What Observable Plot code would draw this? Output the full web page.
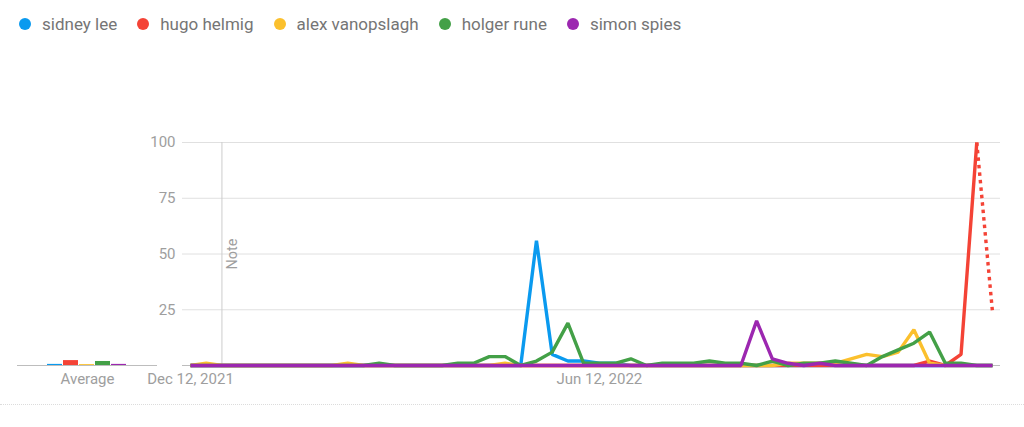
<!DOCTYPE html>
<html>
<head>
<meta charset="utf-8">
<script src="https://cdn.jsdelivr.net/npm/d3@7"></script>
<script src="https://cdn.jsdelivr.net/npm/@observablehq/plot@0.6"></script>
<style>
  html, body { margin: 0; padding: 0; background: #fff; }
  #wrap { position: relative; width: 1024px; height: 427px; overflow: hidden; font-family: Roboto, sans-serif; }
  #legend { position: absolute; left: 0; top: 0; height: 48px; display: flex; align-items: center; padding-left: 19px; }
  .item { display: flex; align-items: center; margin-right: 20px; font-size: 17px; color: #757575; }
  .dot { width: 12px; height: 12px; border-radius: 50%; margin-right: 11px; }
  #avg { position: absolute; left: 0; top: 48px; }
  #main { position: absolute; left: 140px; top: 48px; }
  #sep { position: absolute; left: 0; top: 404px; width: 1024px; border-top: 1px dotted #dcdcdc; }
</style>
</head>
<body>
<div id="wrap">
  <div id="legend"></div>
  <div id="avg"></div>
  <div id="main"></div>
  <div id="sep"></div>
</div>
<script>
// ---- data ----
const names = ["sidney lee", "hugo helmig", "alex vanopslagh", "holger rune", "simon spies"];
const colors = ["#0a9aef", "#f44336", "#fbc02d", "#43a047", "#9c27b0"];
const startWeek = "2021-12-12"; // weekly points, one per week
const sidneyLee = [0,0,0,0,0,0,0,0,0,0, 0,0,0,0,0,0,0,0,0,0, 0,0,56,5,2,2,1,1,0,0, 0,0,0,0,0,0,0,0,0,0, 0,0,0,0,0,0,0,0,0,0, 0,0];
const hugoHelmig = [0,0,0,0,0,0,0,0,0,0, 0,0,0,0,0,0,0,0,0,0, 0,0,0,0,0,0,0,0,0,0, 0,0,0,0,0,0,0,0,0,0, 0,0,0,0,0,0,0,2,0,5, 100,24];
const alexVanopslagh = [0,1,0,0,0,0,0,0,0,0, 1,0,0,0,0,0,0,0,0,0, 1,0,0,0,0,0,0,0,0,0, 0,0,0,0,0,0,0,0,1,1, 1,1,3,5,4,6,16,1,0,0, 0,0];
const holgerRune = [0,0,0,0,0,0,0,0,0,0, 0,0,1,0,0,0,0,1,1,4, 4,0,2,6,19,1,1,1,3,0, 1,1,1,2,1,1,0,2,0,1, 1,2,1,0,4,7,10,15,1,1, 0,0];
const simonSpies = [0,0,0,0,0,0,0,0,0,0, 0,0,0,0,0,0,0,0,0,0, 0,0,0,0,0,0,0,0,0,0, 0,0,0,0,0,0,20,3,1,0, 1,0,0,0,0,0,0,0,0,0, 0,0];
const series = [sidneyLee, hugoHelmig, alexVanopslagh, holgerRune, simonSpies];
const averages = [0.5, 2.2, 0.4, 1.8, 0.5];
const partialSeries = "hugo helmig"; // last (incomplete) week drawn dotted
const noteDate = "2021-12-26";
const yTicks = [25, 50, 75, 100];
const xTickDates = ["2021-12-12", "2022-06-12"];
const xTickLabels = ["Dec 12, 2021", "Jun 12, 2022"];

// ---- build tables ----
const start = new Date(startWeek + "T00:00:00Z");
const weeks = sidneyLee.map((_, i) => d3.utcDay.offset(start, 7 * i));
const last = weeks.length - 1;
const solidRows = [];
const dottedRows = [];
names.forEach((name, s) => {
  series[s].forEach((v, i) => {
    const row = {name, date: weeks[i], value: v};
    if (name === partialSeries) {
      if (i < last) solidRows.push(row);
      if (i >= last - 1) dottedRows.push(row);
    } else {
      solidRows.push(row);
    }
  });
});
const avgRows = names.map((name, i) => ({name, value: averages[i]}));
const tickDates = xTickDates.map(d => new Date(d + "T00:00:00Z"));
const tickLabelMap = new Map(tickDates.map((d, i) => [+d, xTickLabels[i]]));
const note = new Date(noteDate + "T00:00:00Z");

// ---- legend ----
const legend = document.getElementById("legend");
names.forEach((n, i) => {
  const it = document.createElement("div");
  it.className = "item";
  it.innerHTML = `<span class="dot" style="background:${colors[i]}"></span><span>${n}</span>`;
  legend.appendChild(it);
});

const baseStyle = {background: "transparent", fontFamily: "Roboto, sans-serif", fontSize: "15px", color: "#9e9e9e", overflow: "visible"};

// ---- average bars ----
const avgPlot = Plot.plot({
  width: 165, height: 356,
  marginTop: 94, marginBottom: 39, marginLeft: 17, marginRight: 8,
  style: baseStyle,
  x: {type: "band", domain: names, insetLeft: 27, insetRight: 28, padding: 0.06, axis: null},
  y: {domain: [0, 100], axis: null},
  color: {domain: names, range: colors},
  marks: [
    Plot.barY(avgRows, {x: "name", y: "value", fill: "name"}),
    Plot.ruleY([0], {stroke: "#bdbdbd"}),
    Plot.text(["Average"], {frameAnchor: "bottom", lineAnchor: "top", dy: 8, fill: "#9e9e9e"})
  ]
});
document.getElementById("avg").appendChild(avgPlot);

// ---- main chart ----
const mainPlot = Plot.plot({
  width: 884, height: 356,
  marginTop: 94, marginBottom: 39, marginLeft: 42, marginRight: 24,
  style: baseStyle,
  x: {type: "utc", domain: [weeks[0], weeks[last]], insetLeft: 8, insetRight: 8},
  y: {domain: [0, 100]},
  color: {domain: names, range: colors},
  marks: [
    Plot.ruleY(yTicks, {stroke: "#e0e0e0"}),
    Plot.ruleY([0], {stroke: "#bdbdbd"}),
    Plot.ruleX([note], {y1: 0, y2: 100, stroke: "#cccccc"}),
    Plot.text(["Note"], {x: () => note, y: () => 50, rotate: -90, dx: 10, lineAnchor: "middle", fill: "#9e9e9e", fontSize: 14.5}),
    Plot.axisY(yTicks, {tickSize: 0, tickPadding: 7, label: null, fill: "#9e9e9e"}),
    Plot.axisX(tickDates, {tickSize: 0, tickPadding: 8, label: null, fill: "#9e9e9e", tickFormat: d => tickLabelMap.get(+d)}),
    Plot.line(solidRows, {x: "date", y: "value", z: "name", stroke: "name", strokeWidth: 3.4, strokeLinejoin: "miter", strokeLinecap: "butt"}),
    Plot.line(dottedRows, {x: "date", y: "value", z: "name", stroke: "name", strokeWidth: 3.4, strokeDasharray: "3.5,4", strokeLinecap: "butt"})
  ]
});
document.getElementById("main").appendChild(mainPlot);
</script>
</body>
</html>
